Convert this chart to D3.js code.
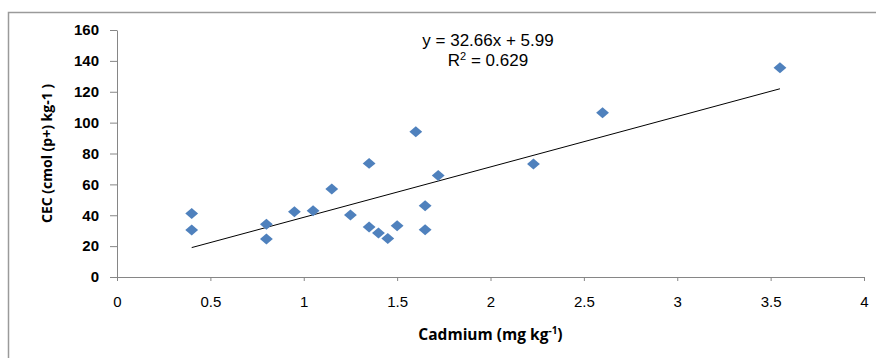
<!DOCTYPE html>
<html>
<head>
<meta charset="utf-8">
<script src="https://cdn.jsdelivr.net/npm/d3@7"></script>
<style>
body { margin: 0; background: #fff; }
svg { display: block; font-family: "Open Sans", "Liberation Sans", sans-serif; }
.axis path, .axis line { stroke: #868686; }
.axis text { fill: #000; }
.eq { font-family: "Liberation Sans", sans-serif; font-size: 17px; }
</style>
</head>
<body>
<div class="chart"></div>
<script>
// Cadmium vs CEC data
var cadmium = [0.4, 0.4, 0.8, 0.8, 0.95, 1.05, 1.15, 1.25, 1.35, 1.35, 1.4, 1.45, 1.5, 1.6, 1.65, 1.65, 1.72, 2.23, 2.6, 3.55];
var cec     = [41.2, 30.4, 34.1, 24.6, 42.3, 42.9, 57, 40.2, 73.6, 32.4, 28.5, 25, 33.2, 94.1, 46.2, 30.6, 65.7, 73.2, 106.4, 135.6];
var xTicks = [0, 0.5, 1, 1.5, 2, 2.5, 3, 3.5, 4];
var yTicks = [0, 20, 40, 60, 80, 100, 120, 140, 160];
var slope = 32.66, intercept = 5.99, r2 = 0.629;

var ww = 876, hh = 358
  , margin = {top: 30, right: 12, bottom: 81, left: 117}
  , width = ww - margin.left - margin.right
  , height = hh - margin.top - margin.bottom;

var svgm = d3.select('.chart').append('svg').attr('width', ww).attr('height', hh);

// outer chart border (runs off the right/bottom of the picture)
svgm.append('rect')
  .attr('x', 8.5).attr('y', 12.5)
  .attr('width', ww + 10).attr('height', hh + 10)
  .attr('fill', 'none').attr('stroke', '#9a9a9a').attr('stroke-width', 1.5);

var x = d3.scaleLinear().domain([0, 4]).range([0, 747])
  , y = d3.scaleLinear().domain([0, 160]).range([height, 0]);

var svg = svgm.append('g').attr('transform', `translate(${margin.left},${margin.top})`);

var xAxis = d3.axisBottom(x).tickValues(xTicks).tickSize(4).tickFormat(d3.format('~g'))
  , yAxis = d3.axisLeft(y).tickValues(yTicks).tickSize(7).tickPadding(11);

svg.append('g').attr('class', 'axis')
  .attr('transform', `translate(0, ${height})`)
  .call(xAxis)
  .call(g => g.selectAll('text').attr('y', 30).attr('dy', 0).style('font-size', '15px'))
  .call(g => g.select('.domain').attr('d', `M0.5,0.5H${x(4) + 0.5}`));

svg.append('g').attr('class', 'axis')
  .call(yAxis)
  .call(g => g.selectAll('text').style('font-size', '15px').style('font-weight', 'bold'))
  .call(g => g.select('.domain').attr('d', `M0.5,${height + 0.5}V0.5`));

// trendline over the data range
var xr = d3.extent(cadmium);
svg.append('line')
  .attr('x1', x(xr[0])).attr('y1', y(slope * xr[0] + intercept))
  .attr('x2', x(xr[1])).attr('y2', y(slope * xr[1] + intercept))
  .attr('stroke', '#000').attr('stroke-width', 1);

// diamond markers
var diamond = d3.symbol().type(d3.symbolDiamond2).size(95);
svg.selectAll('.pt')
  .data(cadmium).enter()
  .append('path')
  .attr('class', 'pt')
  .attr('d', diamond)
  .attr('transform', (d, i) => `translate(${x(d)},${y(cec[i])}) scale(1.05,0.9)`)
  .attr('fill', '#4f81bd');

// regression equation, two separate lines
svg.append('text').attr('class', 'eq')
  .attr('x', 371).attr('y', 16).attr('text-anchor', 'middle')
  .text(`y = ${slope}x + ${intercept}`);
var r = svg.append('text').attr('class', 'eq')
  .attr('x', 371).attr('y', 36).attr('text-anchor', 'middle');
r.append('tspan').text('R');
r.append('tspan').attr('dy', -6).style('font-size', '11px').text('2');
r.append('tspan').attr('dy', 6).text(` = ${r2}`);

// axis titles
svgm.append('text')
  .attr('transform', `translate(52, ${margin.top + height / 2}) rotate(-90)`)
  .attr('text-anchor', 'middle')
  .style('font-size', '14px').style('font-weight', 'bold')
  .text('CEC (cmol (p+) kg-1 )');

var xt = svgm.append('text')
  .attr('x', margin.left + 747 / 2).attr('y', 340)
  .attr('text-anchor', 'middle')
  .style('font-size', '15.5px').style('font-weight', 'bold');
xt.append('tspan').text('Cadmium (mg kg');
xt.append('tspan').attr('dy', -6).style('font-size', '10px').text('-1');
xt.append('tspan').attr('dy', 6).text(')');
</script>
</body>
</html>
